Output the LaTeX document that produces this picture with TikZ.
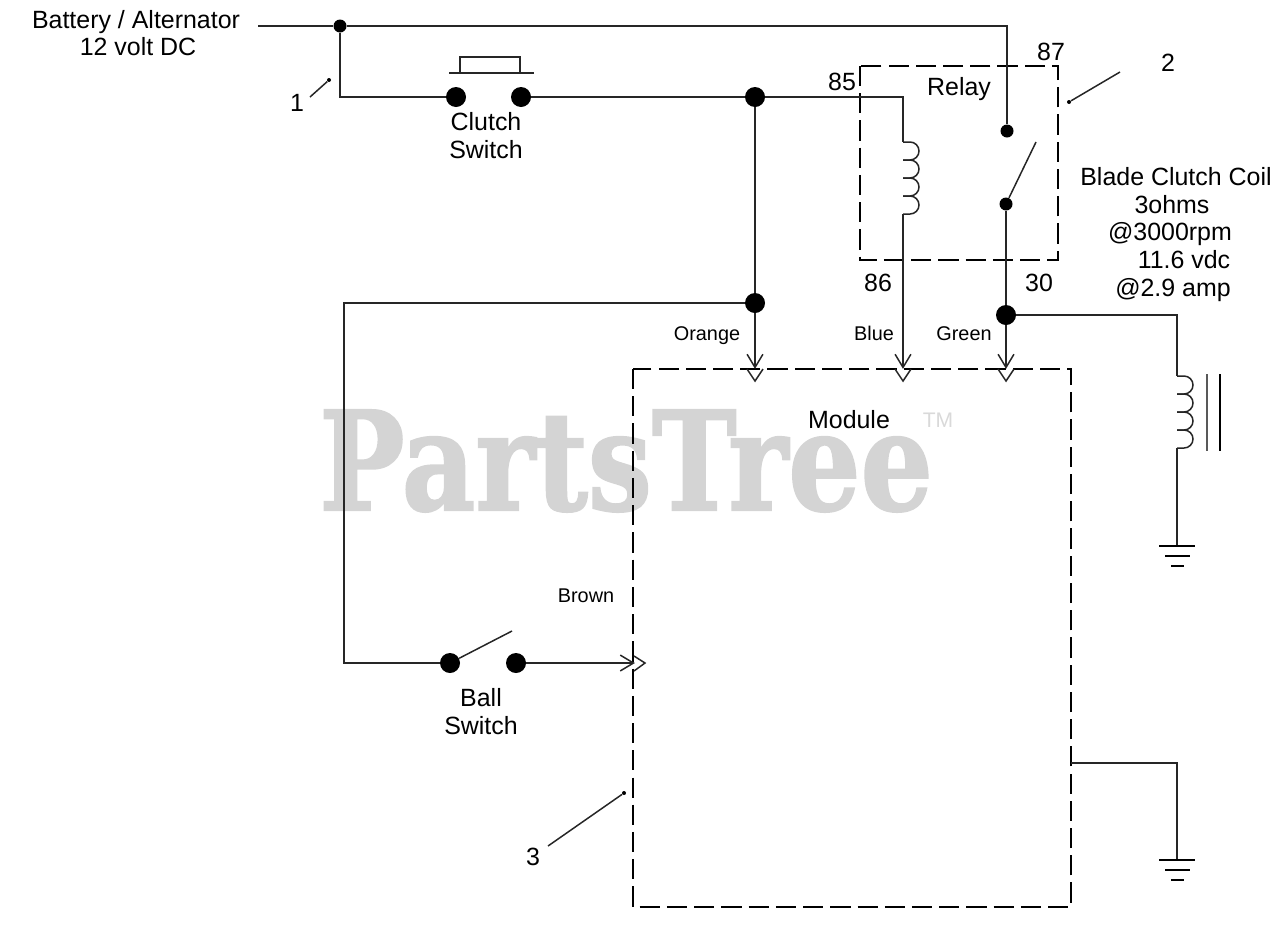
\documentclass[tikz,border=0pt]{standalone}
\usepackage{fontspec}
\setmainfont{Liberation Sans}
\newfontfamily\markfont[BoldFeatures={FakeBold=1.6}]{DejaVu Serif}
\usetikzlibrary{arrows.meta}
\tikzset{
  wire/.style={line width=0.85pt, black!85},
  boxline/.style={line width=1.6pt, dash pattern=on 11.5pt off 4pt},
  pinwire/.style={wire, -{Straight Barb[length=7.5pt,width=9pt,line width=0.85pt]}, shorten >=-0.5pt},
  bigdot/.style={circle, fill=black, inner sep=0pt, minimum size=0.4cm},
  middot/.style={circle, fill=black, inner sep=0pt, minimum size=0.26cm},
  tinydot/.style={circle, fill=black, inner sep=0pt, minimum size=0.08cm},
  bigtext/.style={font=\fontsize{14.2}{16}\selectfont, align=center, inner sep=0pt},
  smalltext/.style={font=\fontsize{11.3}{13}\selectfont, inner sep=0pt, anchor=base},
}
\begin{document}
\begin{tikzpicture}[x=0.02cm, y=-0.02cm]

    \useasboundingbox (0,0) rectangle (1280,924);

    % Watermark
    \node[inner sep=0pt, text=black!17] (mark) at (626,461)
        {\scalebox{0.83}[1]{\markfont\bfseries\fontsize{78}{80}\selectfont PartsTree}};
    \node[inner sep=0pt, text=black!15, font=\fontsize{12}{14}\selectfont] (tm) at (938,420) {TM};

    % Dashed boxes
    \draw[boxline] (860,66) rectangle (1058,260);
    \draw[boxline] (633,369) rectangle (1071,907);

    % Junctions and contacts
    \node[middot] (topjoint) at (340,26) {};
    \node[bigdot] (clutchA) at (456,97) {};
    \node[bigdot] (clutchB) at (521,97) {};
    \node[bigdot] (orangeA) at (755,97) {};
    \node[bigdot] (orangeB) at (755,303) {};
    \node[middot] (relayA) at (1007,131) {};
    \node[middot] (relayB) at (1006,204) {};
    \node[bigdot] (greenjoint) at (1006,315) {};
    \node[bigdot] (ballA) at (450,663) {};
    \node[bigdot] (ballB) at (516,663) {};

    % Free ends and corners
    \coordinate (batt) at (258,26);
    \coordinate (topcorner) at (1007,26);
    \coordinate (clutchcorner) at (340,97);
    \coordinate (relaycorner) at (903,97);
    \coordinate (relaycoilT) at (903,142);
    \coordinate (relaycoilB) at (903,214);
    \coordinate (pinO) at (755,368);
    \coordinate (pinB) at (903,368);
    \coordinate (pinG) at (1006,368);
    \coordinate (pinR) at (634,663);
    \coordinate (ballcornerA) at (344,303);
    \coordinate (ballcornerB) at (344,663);
    \coordinate (fieldcorner) at (1177,315);
    \coordinate (fieldT) at (1177,376);
    \coordinate (fieldB) at (1177,448);
    \coordinate (gndA) at (1177,546);
    \coordinate (modout) at (1071,763);
    \coordinate (modcorner) at (1177,763);
    \coordinate (gndB) at (1177,860);

    % Wires
    \draw[wire] (batt) -- (topjoint) -- (topcorner) -- (relayA);
    \draw[wire] (topjoint) -- (clutchcorner) -- (clutchA);
    \draw[wire] (clutchB) -- (orangeA) -- (relaycorner) -- (relaycoilT);
    \draw[wire] (orangeA) -- (orangeB);
    \draw[wire] (orangeB) -- (ballcornerA) -- (ballcornerB) -- (ballA);
    \draw[wire] (relayB) -- (greenjoint);
    \draw[wire] (greenjoint) -- (fieldcorner) -- (fieldT);
    \draw[wire] (fieldB) -- (gndA);
    \draw[wire] (modout) -- (modcorner) -- (gndB);

    % Wires into the module
    \draw[pinwire] (orangeB) -- (pinO);
    \draw[pinwire] (relaycoilB) -- (pinB);
    \draw[pinwire] (greenjoint) -- (pinG);
    \draw[pinwire] (ballB) -- (pinR);
    \foreach \p in {pinO,pinB,pinG}
        \draw[wire] (\p) ++(-8,1) -- ++(8,12) -- ++(8,-12);
    \draw[wire] (pinR) ++(0,-7) -- ++(11,7) -- ++(-11,8);

    % Coils
    \foreach \y in {142,160,178,196}
        \draw[wire] (903,\y) -- ++(7,0) arc[start angle=-90, end angle=90, radius=9] -- ++(-7,0);
    \foreach \y in {376,394,412,430}
        \draw[wire] (1177,\y) -- ++(7,0) arc[start angle=-90, end angle=90, radius=9] -- ++(-7,0);
    \coordinate (coreA) at (1207,374);
    \coordinate (coreB) at (1207,451);
    \coordinate (coreC) at (1220,374);
    \coordinate (coreD) at (1220,451);
    \draw[line width=1.3pt, black!65] (coreA) -- (coreB);
    \draw[line width=1.3pt] (coreC) -- (coreD);

    % Switch blades
    \coordinate (relayblade) at (1036,142);
    \coordinate (ballblade) at (512,631);
    \draw[wire] (relayB) -- (relayblade);
    \draw[wire] (ballA) -- (ballblade);

    % Push button
    \draw[wire] (449,73) -- (534,73);
    \draw[wire] (460,73) -- (460,57) -- (520,57) -- (520,73);

    % Grounds
    \foreach \g in {gndA,gndB} {
        \draw[line width=1.1pt] (\g) ++(-18,0) -- ++(36,0);
        \draw[line width=1pt] (\g) ++(-12,10) -- ++(25,0);
        \draw[line width=0.8pt] (\g) ++(-6,20) -- ++(13,0);
    }

    % Leaders
    \node[tinydot] (leadA) at (329,80) {};
    \node[tinydot] (leadB) at (1069,102) {};
    \node[tinydot] (leadC) at (624,793) {};
    \coordinate (leadAend) at (310,97);
    \coordinate (leadBend) at (1120,72);
    \coordinate (leadCend) at (548,846);
    \draw[wire] (leadA) -- (leadAend);
    \draw[wire] (leadB) -- (leadBend);
    \draw[wire] (leadC) -- (leadCend);

    % Labels
    \node[bigtext, anchor=base] (battA) at (136,28) {Battery / Alternator};
    \node[bigtext, anchor=base] (battB) at (138,55) {12 volt DC};
    \node[bigtext] (clutchlabel) at (486,136) {Clutch\\Switch};
    \node[bigtext] (balllabel) at (481,712) {Ball\\Switch};
    \node[bigtext, anchor=base] (relaylabel) at (959,95) {Relay};
    \node[bigtext] (modulelabel) at (849,420) {Module};
    \node[bigtext] (n85) at (842,82) {85};
    \node[bigtext] (n87) at (1051,52) {87};
    \node[bigtext] (n86) at (878,283) {86};
    \node[bigtext] (n30) at (1039,283) {30};
    \node[bigtext] (nA) at (297,103) {1};
    \node[bigtext] (nB) at (1168,63) {2};
    \node[bigtext] (nC) at (533,857) {3};
    \node[smalltext] (orange) at (707,340) {Orange};
    \node[smalltext] (blue) at (874,340) {Blue};
    \node[smalltext] (green) at (964,340) {Green};
    \node[smalltext] (brown) at (586,602) {Brown};

    % Coil data
    \node[bigtext, anchor=base] (coilA) at (1176,185) {Blade Clutch Coil};
    \node[bigtext, anchor=base] (coilB) at (1172,213) {3ohms};
    \node[bigtext, anchor=base] (coilC) at (1170,240) {@3000rpm};
    \node[bigtext, anchor=base] (coilD) at (1184,268) {11.6 vdc};
    \node[bigtext, anchor=base] (coilE) at (1173,296) {@2.9 amp};

\end{tikzpicture}
\end{document}
